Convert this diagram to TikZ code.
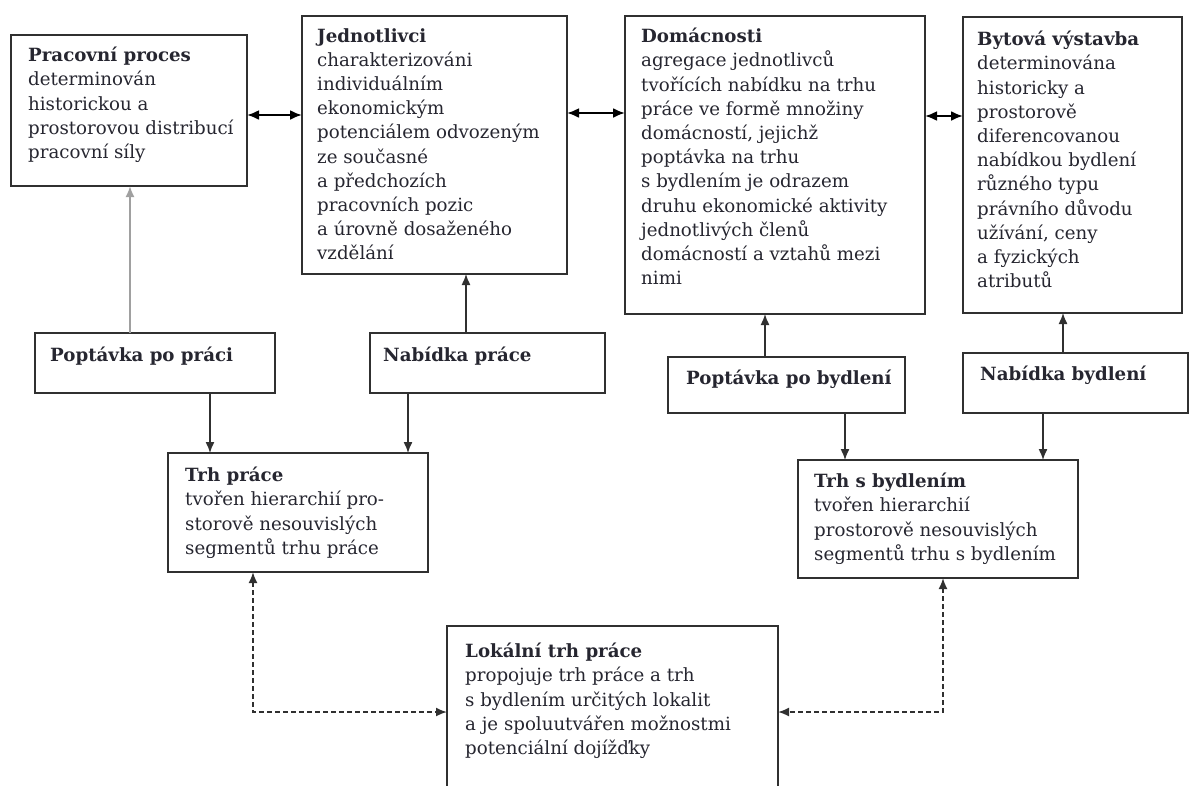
\documentclass[tikz,border=0pt]{standalone}
\usepackage{fontspec}
\setmainfont{DejaVu Serif}
\usetikzlibrary{arrows.meta}
\definecolor{ink}{HTML}{262630}
\definecolor{boxc}{HTML}{303030}
\definecolor{greyline}{HTML}{A0A0A0}
\begin{document}
\begin{tikzpicture}[x=1pt,y=-1pt,
  box/.style={draw=boxc,line width=1.8pt,inner sep=0pt,outer sep=0pt,fill=white},
  txt/.style={anchor=north west,align=left,inner sep=0pt,text=ink,font=\fontsize{18.2}{24.2}\selectfont},
  arr/.style={-{Latex[length=11pt,width=9pt]},line width=1.4pt,draw=boxc},
  garr/.style={-{Latex[length=11pt,width=9pt]},line width=1.8pt,draw=greyline},
  darr/.style={{Latex[length=12pt,width=10pt]}-{Latex[length=12pt,width=10pt]},line width=2.2pt,draw=black},
  dasharr/.style={{Latex[length=11pt,width=9pt]}-{Latex[length=11pt,width=9pt]},line width=1.8pt,draw=boxc,dash pattern=on 5pt off 3pt}
]
\path[use as bounding box] (0,0) rectangle (1190,785);
\clip (0,0) rectangle (1190,785);
\fill[white] (0,0) rectangle (1190,785);

% boxes
\node[box,minimum width=236pt,minimum height=151pt] (b1) at (129,110.5) {};
\node[box,minimum width=265pt,minimum height=258pt] (b2) at (434.5,145) {};
\node[box,minimum width=300pt,minimum height=298pt] (b3) at (775,165) {};
\node[box,minimum width=219pt,minimum height=296pt] (b4) at (1072.5,165) {};
\node[box,minimum width=240pt,minimum height=60pt] (b5) at (155,363) {};
\node[box,minimum width=235pt,minimum height=60pt] (b6) at (487.5,363) {};
\node[box,minimum width=260pt,minimum height=119pt] (b7) at (298,512.5) {};
\node[box,minimum width=237pt,minimum height=56pt] (b8) at (786.5,385) {};
\node[box,minimum width=225pt,minimum height=60pt] (b9) at (1075.5,383) {};
\node[box,minimum width=280pt,minimum height=118pt] (b10) at (938,519) {};
\node[box,minimum width=331pt,minimum height=180pt] (b11) at (612.5,716) {};

% texts
\node[txt] (t1) at ([xshift=17pt,yshift=-12pt]b1.north west)
 {\textbf{Pracovní proces}\\determinován\\historickou a\\prostorovou distribucí\\pracovní síly};
\node[txt] (t2) at ([xshift=15pt,yshift=-12pt]b2.north west)
 {\textbf{Jednotlivci}\\charakterizováni\\individuálním\\ekonomickým\\potenciálem odvozeným\\ze současné\\a předchozích\\pracovních pozic\\a úrovně dosaženého\\vzdělání};
\node[txt] (t3) at ([xshift=16pt,yshift=-12pt]b3.north west)
 {\textbf{Domácnosti}\\agregace jednotlivců\\tvořících nabídku na trhu\\práce ve formě množiny\\domácností, jejichž\\poptávka na trhu\\s bydlením je odrazem\\druhu ekonomické aktivity\\jednotlivých členů\\domácností a vztahů mezi\\nimi};
\node[txt] (t4) at ([xshift=14pt,yshift=-14pt]b4.north west)
 {\textbf{Bytová výstavba}\\determinována\\historicky a\\prostorově\\diferencovanou\\nabídkou bydlení\\různého typu\\právního důvodu\\užívání, ceny\\a fyzických\\atributů};
\node[txt] (t5) at ([xshift=15pt,yshift=-14pt]b5.north west) {\textbf{Poptávka po práci}};
\node[txt] (t6) at ([xshift=13pt,yshift=-14pt]b6.north west) {\textbf{Nabídka práce}};
\node[txt] (t7) at ([xshift=17pt,yshift=-14pt]b7.north west)
 {\textbf{Trh práce}\\tvořen hierarchií pro-\\storově nesouvislých\\segmentů trhu práce};
\node[txt] (t8) at ([xshift=18pt,yshift=-13pt]b8.north west) {\textbf{Poptávka po bydlení}};
\node[txt] (t9) at ([xshift=17pt,yshift=-13pt]b9.north west) {\textbf{Nabídka bydlení}};
\node[txt] (t10) at ([xshift=16pt,yshift=-13pt]b10.north west)
 {\textbf{Trh s bydlením}\\tvořen hierarchií\\prostorově nesouvislých\\segmentů trhu s bydlením};
\node[txt] (t11) at ([xshift=18pt,yshift=-17pt]b11.north west)
 {\textbf{Lokální trh práce}\\propojuje trh práce a trh\\s bydlením určitých lokalit\\a je spoluutvářen možnostmi\\potenciální dojížďky};

% horizontal double arrows
\draw[darr] (b1.east |- 0,115) -- (b2.west |- 0,115);
\draw[darr] (b2.east |- 0,113) -- (b3.west |- 0,113);
\draw[darr] (b3.east |- 0,116) -- (b4.west |- 0,116);

% vertical arrows
\draw[garr] (b5.north -| 130,0) -- (b1.south -| 130,0);
\draw[arr] (b6.north -| 466,0) -- (b2.south -| 466,0);
\draw[arr] (b5.south -| 210,0) -- (b7.north -| 210,0);
\draw[arr] (b6.south -| 408,0) -- (b7.north -| 408,0);
\draw[arr] (b8.north -| 765,0) -- (b3.south -| 765,0);
\draw[arr] (b9.north -| 1063,0) -- (b4.south -| 1063,0);
\draw[arr] (b8.south -| 845,0) -- (b10.north -| 845,0);
\draw[arr] (b9.south -| 1043,0) -- (b10.north -| 1043,0);

% dashed connectors
\draw[dasharr] (b7.south -| 253,0) |- (b11.west |- 0,712);
\draw[dasharr] (b10.south -| 943,0) |- (b11.east |- 0,712);
\end{tikzpicture}
\end{document}
